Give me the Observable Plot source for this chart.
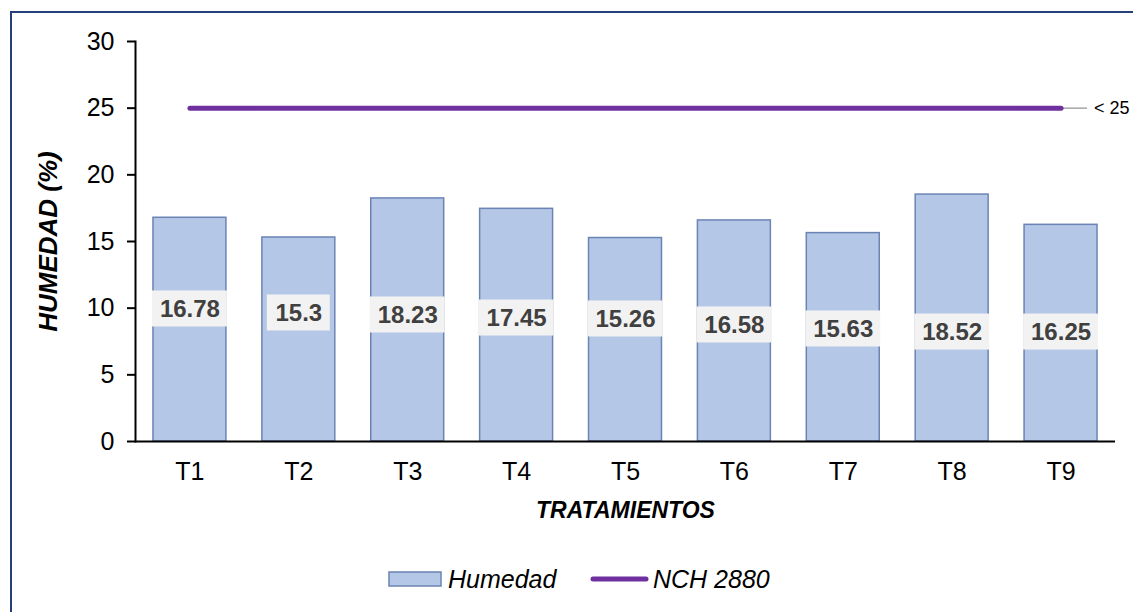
<!DOCTYPE html>
<html><head><meta charset="utf-8">
<script src="https://cdn.jsdelivr.net/npm/d3@7"></script>
<script src="https://cdn.jsdelivr.net/npm/@observablehq/plot@0.6"></script>
<style>
body{margin:0;background:#fff;font-family:"Liberation Sans",Arial,sans-serif;overflow:hidden;width:1133px;height:612px;position:relative;}
#frame{position:absolute;left:10px;top:11px;width:1200px;height:700px;border:2px solid #243F7A;}
#chart{position:absolute;left:0;top:0;}
.lg{position:absolute;font-style:italic;font-size:25px;line-height:28px;color:#000;}
</style></head>
<body><div id="frame"></div><div id="chart"></div>
<svg class="lg" style="left:388px;top:571px" width="55" height="17"><rect x="1" y="1" width="52" height="14" fill="#B4C7E7" stroke="#6B84B4" stroke-width="1.5"/></svg>
<span class="lg" id="lg1" style="left:448px;top:565px"></span>
<svg class="lg" style="left:589px;top:574px" width="62" height="10"><line x1="4" y1="5" x2="57" y2="5" stroke="#7030A0" stroke-width="5" stroke-linecap="round"/></svg>
<span class="lg" id="lg2" style="left:653px;top:565px"></span>
<script>
const categories = ["T1","T2","T3","T4","T5","T6","T7","T8","T9"];
const humedad = [16.78, 15.3, 18.23, 17.45, 15.26, 16.58, 15.63, 18.52, 16.25];
const nch = [25, 25, 25, 25, 25, 25, 25, 25, 25];
const labelY = [9.94, 9.64, 9.49, 9.26, 9.19, 8.74, 8.44, 8.21, 8.21];
const yTicks = [0, 5, 10, 15, 20, 25, 30];
const seriesNames = ["Humedad", "NCH 2880"];
const limitLabel = "< 25";
const yTitle = "HUMEDAD (%)";
const xTitle = "TRATAMIENTOS";

document.getElementById("lg1").textContent = seriesNames[0];
document.getElementById("lg2").textContent = seriesNames[1];

const data = categories.map((c, i) => ({cat: c, v: humedad[i], ly: labelY[i], nch: nch[i], label: String(humedad[i])}));
const last = data.slice(-1);

const chart = Plot.plot({
  width: 1133, height: 540,
  marginLeft: 135, marginRight: 18, marginTop: 41, marginBottom: 99,
  style: {fontFamily: "Liberation Sans, Arial, sans-serif", background: "transparent", color: "#000"},
  x: {domain: categories, paddingInner: 0.33, paddingOuter: 0.165, round: false, label: null},
  y: {domain: [0, 30], label: null},
  marks: [
    Plot.barY(data, {x: "cat", y: "v", fill: "#B4C7E7", stroke: "#6B84B4", strokeWidth: 1.5}),
    Plot.axisY(yTicks, {tickSize: 8, tickPadding: 13, fontSize: 25, label: null, strokeWidth: 2}),
    Plot.axisX({tickSize: 0, tickPadding: 21, fontSize: 25, label: null}),
    Plot.ruleY([0], {strokeWidth: 2}),
    Plot.frame({anchor: "left", strokeWidth: 2}),
    Plot.barY(data.filter(d => d.label.length > 4), {x: "cat", y1: "ly", y2: "ly", fill: "#F2F2F2", insetTop: -18, insetBottom: -18, insetLeft: -1, insetRight: -1}),
    Plot.barY(data.filter(d => d.label.length <= 4), {x: "cat", y1: "ly", y2: "ly", fill: "#F2F2F2", insetTop: -18, insetBottom: -18, insetLeft: 5, insetRight: 5}),
    Plot.text(data, {x: "cat", y: "ly", text: "label", fontSize: 24, fontWeight: "bold", fill: "#404040"}),
    Plot.tickY(last, {x: "cat", y: "nch", stroke: "#A6A6A6", strokeWidth: 1.5, insetLeft: 37, insetRight: 10}),
    Plot.line(data, {x: "cat", y: "nch", stroke: "#7030A0", strokeWidth: 5, strokeLinecap: "round"}),
    Plot.text(last, {x: "cat", y: "nch", text: () => limitLabel, textAnchor: "start", dx: 33, fontSize: 18, fill: "#000"}),
    Plot.text([yTitle], {frameAnchor: "left", textAnchor: "middle", dx: -87, rotate: -90, fontSize: 26, fontWeight: "bold", fontStyle: "italic", fill: "#000"}),
    Plot.text([xTitle], {frameAnchor: "bottom", dy: 76, fontSize: 23, fontWeight: "bold", fontStyle: "italic", fill: "#000"})
  ]
});
document.getElementById("chart").appendChild(chart);
</script>
</body></html>
